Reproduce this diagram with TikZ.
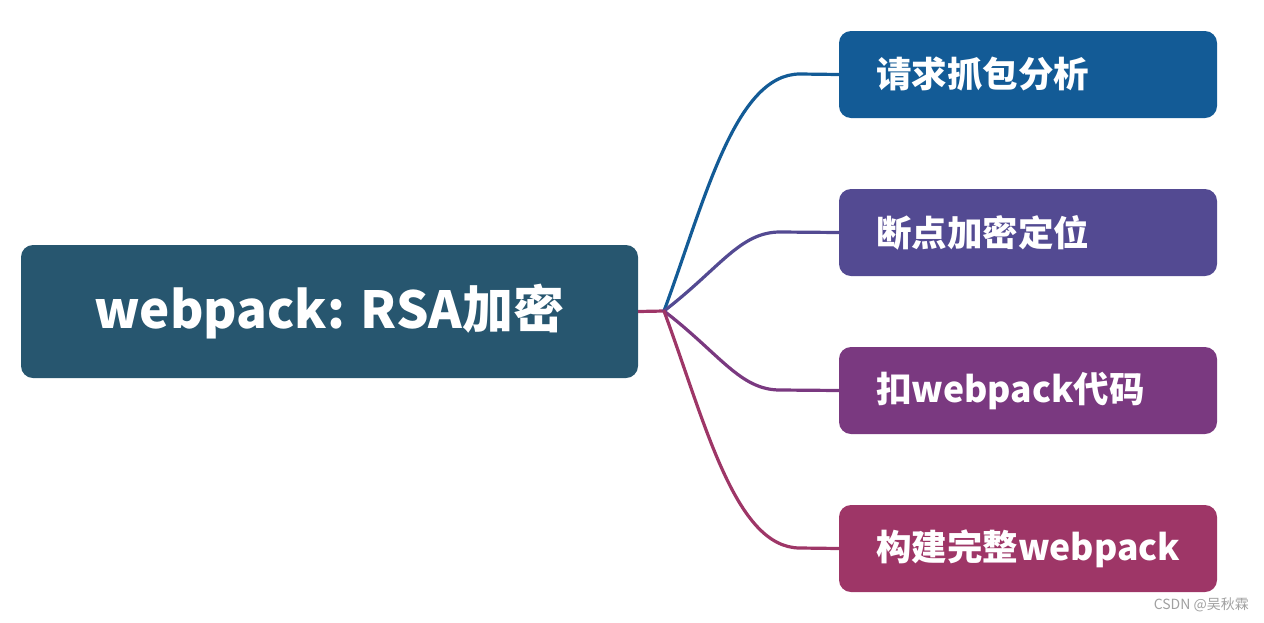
\documentclass[tikz,border=0pt]{standalone}
\usepackage{fontspec}
\setmainfont{Noto Sans CJK SC}
\usetikzlibrary{positioning}
\definecolor{rootc}{HTML}{27566F}
\definecolor{c1}{HTML}{135B96}
\definecolor{c2}{HTML}{534A92}
\definecolor{c3}{HTML}{7A3980}
\definecolor{c4}{HTML}{9E3667}
\definecolor{wm}{HTML}{A0A0A0}
\tikzset{
  rootbox/.style={fill=rootc, rounded corners=12pt, minimum width=617pt, minimum height=133pt, inner sep=0pt, text=white, font=\fontsize{51}{56}\selectfont\bfseries},
  branchbox/.style={rounded corners=12pt, minimum width=378pt, minimum height=87pt, inner sep=0pt, text=white},
  branchtext/.style={anchor=west, text=white, inner sep=0pt, font=\fontsize{35.5}{40}\selectfont\bfseries},
  link/.style={line width=3.2pt, line cap=round},
}
\begin{document}
\begin{tikzpicture}[x=1pt,y=-1pt]
\useasboundingbox (0,0) rectangle (1264,622);
\node[rootbox] (root) at (329.5,311.5) {webpack: RSA加密};
\coordinate (J) at (664,311);
\node[branchbox, fill=c1] (b1) at (1028,74.5) {};
\node[branchbox, fill=c2] (b2) at (1028,232.5) {};
\node[branchbox, fill=c3] (b3) at (1028,390.5) {};
\node[branchbox, fill=c4] (b4) at (1028,548.5) {};
\node[branchtext] (t1) at (876,74.5) {请求抓包分析};
\node[branchtext] (t2) at (876,232.5) {断点加密定位};
\node[branchtext] (t3) at (876,390.5) {扣webpack代码};
\node[branchtext] (t4) at (876,548.5) {构建完整webpack};
\draw[link, c4, line cap=butt] (root.east) -- (J);
\draw[link, c1] (J) .. controls (705,200) and (735,74) .. (800,74) -- (b1.west);
\draw[link, c2] (J) .. controls (720,268) and (740,232) .. (780,232) -- (b2.west);
\draw[link, c3] (J) .. controls (720,354) and (740,390) .. (780,390) -- (b3.west);
\draw[link, c4] (J) .. controls (705,422) and (735,548) .. (800,548) -- (b4.west);
\node[anchor=east, text=wm, inner sep=0pt, font=\fontsize{14}{16}\selectfont] (wmk) at (1249,605) {CSDN @吴秋霖};
\end{tikzpicture}
\end{document}
